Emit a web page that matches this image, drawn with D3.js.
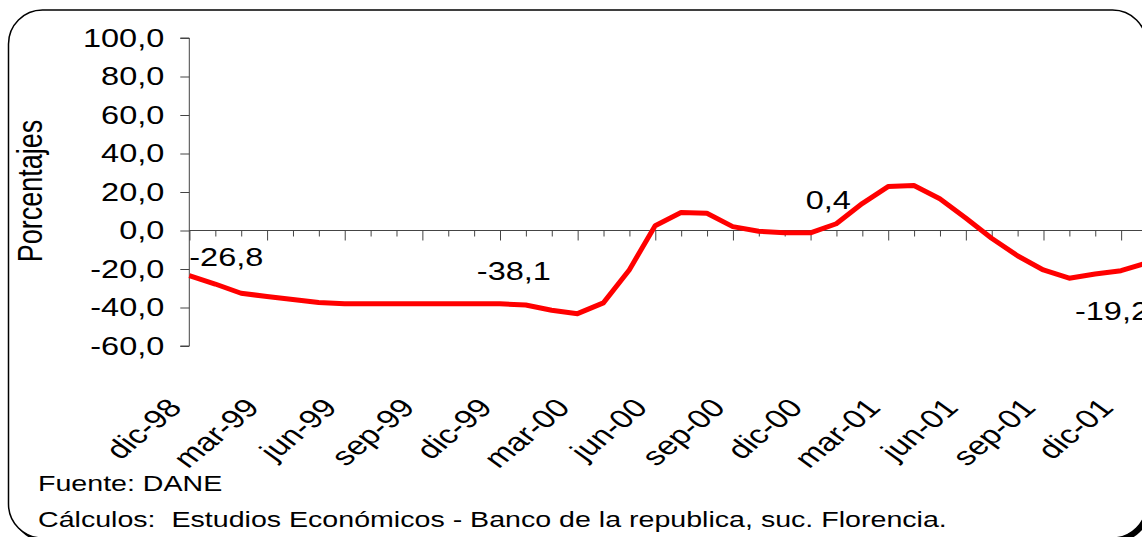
<!DOCTYPE html>
<html>
<head>
<meta charset="utf-8">
<script src="https://cdn.jsdelivr.net/npm/d3@7"></script>
<style>
  body { margin: 0; background: #fff; }
  svg { display: block; font-family: "Liberation Sans", Arial, sans-serif; }
</style>
</head>
<body>
<div id="chart"></div>
<script>
// months dic-98 .. ene-02
const months = ["dic-98","ene-99","feb-99","mar-99","abr-99","may-99","jun-99","jul-99","ago-99","sep-99","oct-99","nov-99",
                "dic-99","ene-00","feb-00","mar-00","abr-00","may-00","jun-00","jul-00","ago-00","sep-00","oct-00","nov-00",
                "dic-00","ene-01","feb-01","mar-01","abr-01","may-01","jun-01","jul-01","ago-01","sep-01","oct-01","nov-01",
                "dic-01","ene-02"];
const values = [-23.5, -27.8, -32.6, -34.3, -35.8, -37.4, -38.1, -38.1, -38.1, -38.1, -38.1, -38.1,
                -38.1, -38.7, -41.4, -43.2, -37.6, -20.5, 2.5, 9.3, 9.0, 2.0, -0.4, -1.2,
                -1.2, 3.5, 14.0, 22.8, 23.4, 16.5, 6.5, -4.0, -13.1, -20.5, -24.8, -22.6,
                -20.9, -16.8];
const yTicks = [-60, -40, -20, 0, 20, 40, 60, 80, 100];
const annotations = [
  {label: "-26,8", month: "dic-98"},
  {label: "-38,1", month: "dic-99"},
  {label: "0,4", month: "ene-01"},
  {label: "-19,2", month: "dic-01"}
];
const sources = ["Fuente: DANE", "Cálculos:  Estudios Económicos - Banco de la republica, suc. Florencia."];

// the picture is stretched sideways, so draw in a narrower box and stretch it
const S = 1.3;
const W = 1142, H = 537, VW = W / S;
const px = v => v / S;

const svg = d3.select("#chart").append("svg")
  .attr("width", W).attr("height", H)
  .attr("viewBox", `0 0 ${VW} ${H}`)
  .attr("preserveAspectRatio", "none");

// frame with shadow
svg.append("rect").attr("x", px(12)).attr("y", 14).attr("width", px(1138)).attr("height", 528)
  .attr("rx", px(34)).attr("ry", 34).attr("fill", "#000");
svg.append("rect").attr("x", px(8.5)).attr("y", 10).attr("width", px(1138)).attr("height", 528)
  .attr("rx", px(34)).attr("ry", 34).attr("fill", "#fff").attr("stroke", "#000")
  .attr("stroke-width", 1.5).attr("vector-effect", "non-scaling-stroke");

const x = d3.scaleLinear().domain([0, months.length - 1]).range([px(189.3), px(189.3 + 37 * 25.88)]);
const y = d3.scaleLinear().domain([-60, 100]).range([346, 38]);

const fmt = d => d.toFixed(1).replace(".", ",");

// y axis
const yAxis = svg.append("g").attr("transform", `translate(${x(0)},0)`)
  .call(d3.axisLeft(y).tickValues(yTicks).tickSize(px(9)).tickPadding(px(16)).tickFormat(fmt));
yAxis.selectAll("path, line").attr("stroke", "#444").attr("vector-effect", "non-scaling-stroke");
yAxis.select(".domain").attr("d", `M${-px(9)},${y(100)}H0V${y(-60)}H${-px(9)}`);
yAxis.selectAll("text").attr("font-size", 25).attr("fill", "#000").attr("font-family", "Liberation Sans, Arial");

// x axis on zero line
const xAxis = svg.append("g").attr("transform", `translate(0,${y(0)})`)
  .call(d3.axisBottom(x).tickValues(d3.range(months.length)).tickSizeInner(6).tickSizeOuter(0).tickFormat(""));
xAxis.select(".domain").attr("d", `M${x(0)},0H${VW}`);
xAxis.selectAll("path, line").attr("stroke", "#444").attr("vector-effect", "non-scaling-stroke");
xAxis.selectAll(".tick line").attr("y2", d => d % 3 === 0 ? 10 : 6);

// category labels, every 3 months
svg.append("g").selectAll("text")
  .data(months.map((m, i) => ({m, i})).filter(d => d.i % 3 === 0))
  .join("text")
  .attr("transform", d => `translate(${x(d.i) - px(6)},409) rotate(-47)`)
  .attr("text-anchor", "end")
  .attr("font-size", 26)
  .text(d => d.m);

// y title
svg.append("text")
  .attr("transform", `translate(${px(42)},191) rotate(-90)`)
  .attr("text-anchor", "middle")
  .attr("font-size", 27)
  .text("Porcentajes");

// the line
const line = d3.line().x((d, i) => x(i)).y(d => y(d));
svg.append("path").datum(values)
  .attr("d", line)
  .attr("fill", "none")
  .attr("stroke", "#ff0000")
  .attr("stroke-width", 5)
  .attr("stroke-linejoin", "round")
  .attr("vector-effect", "non-scaling-stroke");

// value labels
const annoPos = {"-26,8": [0, -10, "start"], "-38,1": [14, -24, "middle"], "0,4": [-8, -15, "middle"], "-19,2": [-9, 49, "middle"]};
svg.append("g").selectAll("text").data(annotations).join("text")
  .attr("x", d => x(months.indexOf(d.month)) + px(annoPos[d.label][0]))
  .attr("y", d => y(values[months.indexOf(d.month)]) + annoPos[d.label][1])
  .attr("text-anchor", d => annoPos[d.label][2])
  .attr("font-size", 25)
  .text(d => d.label);

// sources
svg.append("g").selectAll("text").data(sources).join("text")
  .attr("x", px(38))
  .attr("y", (d, i) => 491 + i * 36)
  .attr("font-size", 22)
  .attr("xml:space", "preserve")
  .style("white-space", "pre")
  .text(d => d);
</script>
</body>
</html>
